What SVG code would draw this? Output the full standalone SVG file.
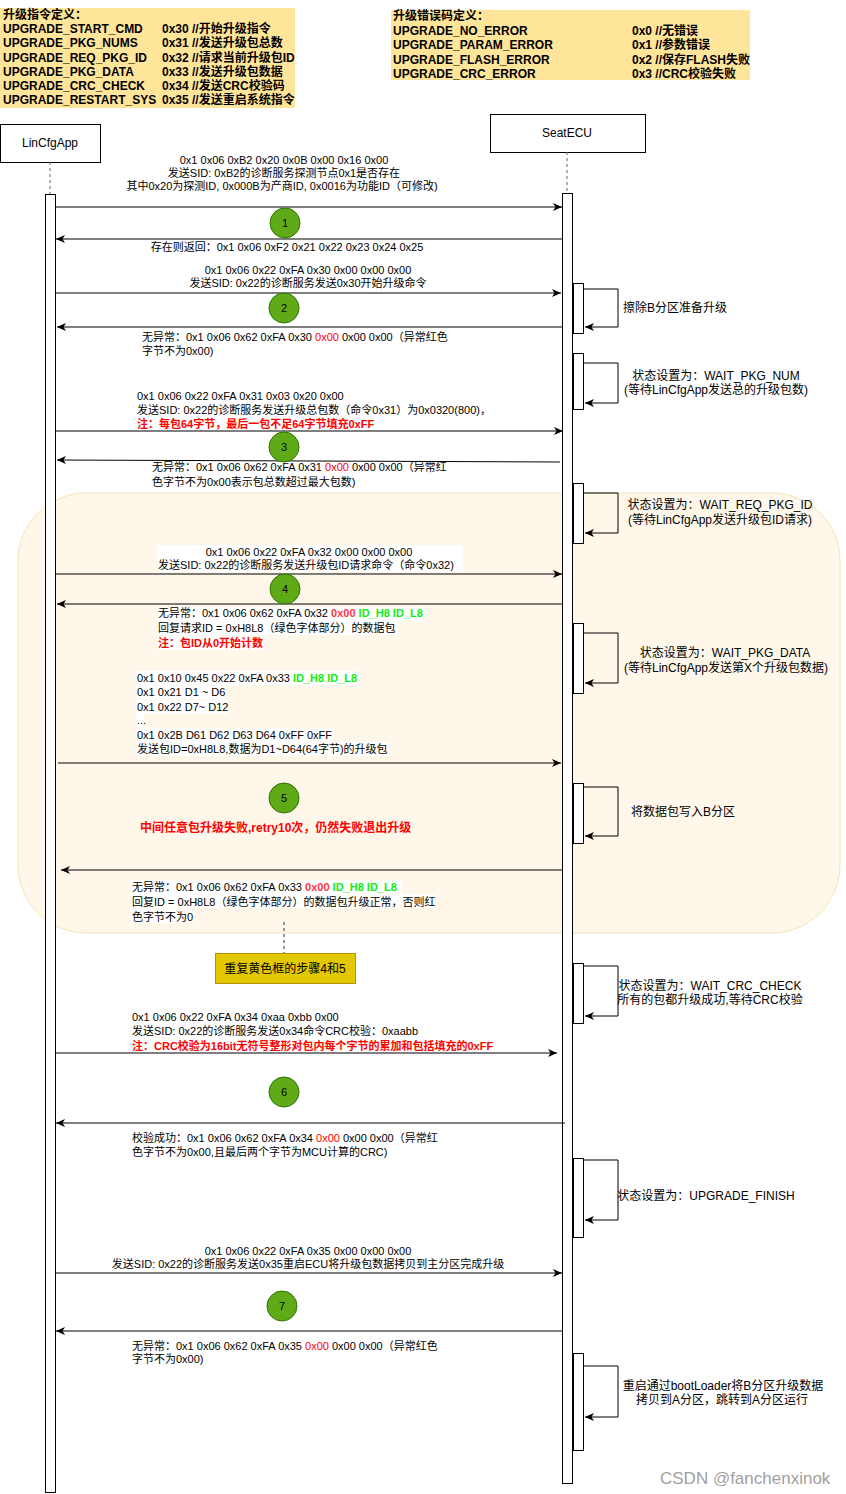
<svg xmlns="http://www.w3.org/2000/svg" width="846" height="1494" viewBox="0 0 846 1494">
<style>
.t{font-family:"Liberation Sans","Noto Sans CJK SC",sans-serif;font-size:11px;fill:#000}
.c{text-anchor:middle}
.d{font-size:12px;font-weight:bold}
.h{font-size:12px}
.red{fill:#ff0000}
.rb{fill:#ff0000;font-weight:bold}
.pk{fill:#ff3344;font-weight:bold}
.g{fill:#11ee11;font-weight:bold}
.ln{stroke:#000;stroke-width:1;fill:none}
.bar{fill:#fff;stroke:#000;stroke-width:1}
.circ{fill:#60a917;stroke:#2d7600;stroke-width:1}
.wb{fill:#fff}
</style>
<defs>
<marker id="ah" markerWidth="10" markerHeight="8" refX="9" refY="4" orient="auto" markerUnits="userSpaceOnUse">
<path d="M0,0 L9,4 L0,8 L2.5,4 Z" fill="#000"/>
</marker>
</defs>
<rect width="846" height="1494" fill="#fff"/>

<g id="defs-cmd">
<rect x="0" y="8" width="295" height="100" fill="#ffe599"/>
<text class="t d" x="3" y="19">升级指令定义：</text>
<text class="t d" x="3" y="33">UPGRADE_START_CMD</text><text class="t d" x="162" y="33">0x30 //开始升级指令</text>
<text class="t d" x="3" y="47">UPGRADE_PKG_NUMS</text><text class="t d" x="162" y="47">0x31 //发送升级包总数</text>
<text class="t d" x="3" y="62">UPGRADE_REQ_PKG_ID</text><text class="t d" x="162" y="62">0x32 //请求当前升级包ID</text>
<text class="t d" x="3" y="76">UPGRADE_PKG_DATA</text><text class="t d" x="162" y="76">0x33 //发送升级包数据</text>
<text class="t d" x="3" y="90">UPGRADE_CRC_CHECK</text><text class="t d" x="162" y="90">0x34 //发送CRC校验码</text>
<text class="t d" x="3" y="104">UPGRADE_RESTART_SYS</text><text class="t d" x="162" y="104">0x35 //发送重启系统指令</text>
</g>

<g id="defs-err">
<rect x="391" y="10" width="359" height="70" fill="#ffe599"/>
<text class="t d" x="393" y="20">升级错误码定义：</text>
<text class="t d" x="393" y="35">UPGRADE_NO_ERROR</text><text class="t d" x="632" y="35">0x0 //无错误</text>
<text class="t d" x="393" y="49">UPGRADE_PARAM_ERROR</text><text class="t d" x="632" y="49">0x1 //参数错误</text>
<text class="t d" x="393" y="64">UPGRADE_FLASH_ERROR</text><text class="t d" x="632" y="64">0x2 //保存FLASH失败</text>
<text class="t d" x="393" y="78">UPGRADE_CRC_ERROR</text><text class="t d" x="632" y="78">0x3 //CRC校验失败</text>
</g>

<g id="loop-region">
<rect x="18" y="493" width="822" height="440" rx="68" ry="68" fill="#fff8ea" stroke="#f3e4b8" stroke-width="1"/>
</g>

<g id="LinCfgApp">
<rect class="bar" x="0.5" y="124.5" width="100" height="38"/>
<text class="t h c" x="50" y="147">LinCfgApp</text>
<line x1="50" y1="162" x2="50" y2="194" stroke="#666" stroke-dasharray="3,3"/>
<rect class="bar" x="45.5" y="194.5" width="10" height="1298"/>
</g>

<g id="SeatECU">
<rect class="bar" x="490.5" y="114.5" width="155" height="38"/>
<text class="t h c" x="567" y="137">SeatECU</text>
<line x1="567" y1="152" x2="567" y2="193" stroke="#666" stroke-dasharray="3,3"/>
<rect class="bar" x="562.5" y="193.5" width="10" height="1290"/>
</g>

<g id="self-activations">
<rect class="bar" x="573.5" y="283.5" width="10" height="50"/>
<rect class="bar" x="573.5" y="353.5" width="10" height="56"/>
<rect class="bar" x="573.5" y="483.5" width="10" height="60"/>
<rect class="bar" x="573.5" y="623.5" width="10" height="70"/>
<rect class="bar" x="573.5" y="783.5" width="10" height="60"/>
<rect class="bar" x="573.5" y="963.5" width="10" height="60"/>
<rect class="bar" x="573.5" y="1158.5" width="10" height="79"/>
<rect class="bar" x="573.5" y="1353.5" width="10" height="97"/>
</g>

<g id="connectors">
<line class="ln" x1="56" y1="207" x2="562" y2="207" marker-end="url(#ah)"/>
<line class="ln" x1="562" y1="239" x2="56" y2="239" marker-end="url(#ah)"/>
<line class="ln" x1="56" y1="293" x2="561" y2="293" marker-end="url(#ah)"/>
<line class="ln" x1="562" y1="327" x2="57" y2="327" marker-end="url(#ah)"/>
<line class="ln" x1="56" y1="431" x2="563" y2="431" marker-end="url(#ah)"/>
<line class="ln" x1="560" y1="462" x2="57" y2="460" marker-end="url(#ah)"/>
<line class="ln" x1="56" y1="574" x2="562" y2="574" marker-end="url(#ah)"/>
<line class="ln" x1="562" y1="604" x2="57" y2="604" marker-end="url(#ah)"/>
<line class="ln" x1="58" y1="763" x2="561" y2="763" marker-end="url(#ah)"/>
<line class="ln" x1="562" y1="870" x2="61" y2="870" marker-end="url(#ah)"/>
<line class="ln" x1="56" y1="1053" x2="557" y2="1053" marker-end="url(#ah)"/>
<line class="ln" x1="565" y1="1123" x2="56" y2="1123" marker-end="url(#ah)"/>
<line class="ln" x1="56" y1="1273" x2="562" y2="1273" marker-end="url(#ah)"/>
<line class="ln" x1="562" y1="1331" x2="56" y2="1331" marker-end="url(#ah)"/>
<polyline class="ln" points="584,289 618,289 618,327 585,327" marker-end="url(#ah)"/>
<polyline class="ln" points="584,363 618,363 618,403 585,403" marker-end="url(#ah)"/>
<polyline class="ln" points="584,493 618,493 618,533 585,533" marker-end="url(#ah)"/>
<polyline class="ln" points="584,633 618,633 618,683 585,683" marker-end="url(#ah)"/>
<polyline class="ln" points="584,787 618,787 618,836 585,836" marker-end="url(#ah)"/>
<polyline class="ln" points="584,966 618,966 618,1016 585,1016" marker-end="url(#ah)"/>
<polyline class="ln" points="584,1160 618,1160 618,1220 585,1220" marker-end="url(#ah)"/>
<polyline class="ln" points="584,1366 618,1366 618,1417 585,1417" marker-end="url(#ah)"/>
<line x1="284" y1="922" x2="284" y2="953" stroke="#777" stroke-width="1.5" stroke-dasharray="3,3"/>
</g>

<g id="step1">
<text class="t c" x="284" y="164">0x1 0x06 0xB2 0x20 0x0B 0x00 0x16 0x00</text>
<text class="t c" x="284" y="177">发送SID: 0xB2的诊断服务探测节点0x1是否存在</text>
<text class="t c" x="282" y="190">其中0x20为探测ID, 0x000B为产商ID, 0x0016为功能ID（可修改)</text>
<circle class="circ" cx="285" cy="223" r="15"/>
<text class="t c" x="285" y="227">1</text>
<text class="t c" x="287" y="251">存在则返回：0x1 0x06 0xF2 0x21 0x22 0x23 0x24 0x25</text>
</g>

<g id="step2">
<text class="t c" x="308" y="274">0x1 0x06 0x22 0xFA 0x30 0x00 0x00 0x00</text>
<text class="t c" x="308" y="287">发送SID: 0x22的诊断服务发送0x30开始升级命令</text>
<circle class="circ" cx="284" cy="308" r="15"/>
<text class="t c" x="284" y="312">2</text>
<text class="t" x="142" y="341">无异常：0x1 0x06 0x62 0xFA 0x30 <tspan class="red">0x00</tspan> 0x00 0x00（异常红色</text>
<text class="t" x="142" y="355">字节不为0x00)</text>
</g>

<g id="ecu-state1">
<text class="t h" x="623" y="312">擦除B分区准备升级</text>
<text class="t h c" x="716" y="380">状态设置为：WAIT_PKG_NUM</text>
<text class="t h c" x="716" y="394">(等待LinCfgApp发送总的升级包数)</text>
</g>

<g id="step3">
<text class="t" x="137" y="400">0x1 0x06 0x22 0xFA 0x31 0x03 0x20 0x00</text>
<text class="t" x="137" y="414">发送SID: 0x22的诊断服务发送升级总包数（命令0x31）为0x0320(800)，</text>
<text class="t rb" x="137" y="428">注：每包64字节，最后一包不足64字节填充0xFF</text>
<circle class="circ" cx="284" cy="447" r="15"/>
<text class="t c" x="284" y="451">3</text>
<text class="t" x="152" y="471">无异常：0x1 0x06 0x62 0xFA 0x31 <tspan class="red">0x00</tspan> 0x00 0x00（异常红</text>
<text class="t" x="152" y="486">色字节不为0x00表示包总数超过最大包数)</text>
</g>

<g id="ecu-state2">
<text class="t h c" x="720" y="509">状态设置为：WAIT_REQ_PKG_ID</text>
<text class="t h c" x="720" y="524">(等待LinCfgApp发送升级包ID请求)</text>
<text class="t h c" x="725" y="657">状态设置为：WAIT_PKG_DATA</text>
<text class="t h c" x="726" y="672">(等待LinCfgApp发送第X个升级包数据)</text>
</g>

<g id="step4">
<rect class="wb" x="157" y="545" width="306" height="27"/>
<text class="t c" x="309" y="556">0x1 0x06 0x22 0xFA 0x32 0x00 0x00 0x00</text>
<text class="t" x="158" y="569">发送SID: 0x22的诊断服务发送升级包ID请求命令（命令0x32)</text>
<circle class="circ" cx="285" cy="589" r="15"/>
<text class="t c" x="285" y="593">4</text>
<rect class="wb" x="157" y="607" width="266" height="14"/>
<rect class="wb" x="157" y="621" width="241" height="14"/>
<rect class="wb" x="157" y="636" width="106" height="14"/>
<text class="t" x="158" y="617">无异常：0x1 0x06 0x62 0xFA 0x32 <tspan class="pk">0x00</tspan> <tspan class="g">ID_H8 ID_L8</tspan></text>
<text class="t" x="158" y="632">回复请求ID = 0xH8L8（绿色字体部分）的数据包</text>
<text class="t rb" x="158" y="647">注：包ID从0开始计数</text>
</g>

<g id="step5">
<rect class="wb" x="136" y="671" width="222" height="14"/>
<rect class="wb" x="136" y="685" width="90" height="14"/>
<rect class="wb" x="136" y="700" width="92" height="14"/>
<rect class="wb" x="136" y="714" width="8" height="13"/>
<rect class="wb" x="136" y="728" width="197" height="14"/>
<rect class="wb" x="136" y="742" width="253" height="14"/>
<text class="t" x="137" y="682">0x1 0x10 0x45 0x22 0xFA 0x33 <tspan class="g">ID_H8 ID_L8</tspan></text>
<text class="t" x="137" y="696">0x1 0x21 D1 ~ D6</text>
<text class="t" x="137" y="711">0x1 0x22 D7~ D12</text>
<text class="t" x="137" y="724">...</text>
<text class="t" x="137" y="739">0x1 0x2B D61 D62 D63 D64 0xFF 0xFF</text>
<text class="t" x="137" y="753">发送包ID=0xH8L8,数据为D1~D64(64字节)的升级包</text>
<circle class="circ" cx="284" cy="798" r="15"/>
<text class="t c" x="284" y="802">5</text>
<text class="t rb" x="140" y="832" style="font-size:12px">中间任意包升级失败,retry10次，仍然失败退出升级</text>
<text class="t h" x="631" y="816">将数据包写入B分区</text>
<rect class="wb" x="131" y="880" width="271" height="14"/>
<rect class="wb" x="131" y="894" width="304" height="14"/>
<rect class="wb" x="131" y="909" width="62" height="14"/>
<text class="t" x="132" y="891">无异常：0x1 0x06 0x62 0xFA 0x33  <tspan class="pk">0x00</tspan> <tspan class="g">ID_H8 ID_L8</tspan></text>
<text class="t" x="132" y="906">回复ID = 0xH8L8（绿色字体部分）的数据包升级正常，否则红</text>
<text class="t" x="132" y="921">色字节不为0</text>
</g>

<g id="repeat-note">
<rect x="215.5" y="953.5" width="140" height="30" fill="#e3c800" stroke="#b09500"/>
<text class="t h c" x="285" y="973">重复黄色框的步骤4和5</text>
</g>

<g id="step6">
<text class="t h c" x="710" y="990">状态设置为：WAIT_CRC_CHECK</text>
<text class="t h c" x="710" y="1004">所有的包都升级成功,等待CRC校验</text>
<text class="t" x="132" y="1021">0x1 0x06 0x22 0xFA 0x34 0xaa 0xbb 0x00</text>
<text class="t" x="132" y="1035">发送SID: 0x22的诊断服务发送0x34命令CRC校验：0xaabb</text>
<text class="t rb" x="132" y="1050">注：CRC校验为16bit无符号整形对包内每个字节的累加和包括填充的0xFF</text>
<circle class="circ" cx="284" cy="1092" r="15"/>
<text class="t c" x="284" y="1096">6</text>
<text class="t" x="132" y="1142">校验成功：0x1 0x06 0x62 0xFA 0x34 <tspan class="red">0x00</tspan> 0x00 0x00（异常红</text>
<text class="t" x="132" y="1156">色字节不为0x00,且最后两个字节为MCU计算的CRC)</text>
<text class="t h c" x="706" y="1200">状态设置为：UPGRADE_FINISH</text>
</g>

<g id="step7">
<text class="t c" x="308" y="1255">0x1 0x06 0x22 0xFA 0x35 0x00 0x00 0x00</text>
<text class="t c" x="308" y="1268">发送SID: 0x22的诊断服务发送0x35重启ECU将升级包数据拷贝到主分区完成升级</text>
<circle class="circ" cx="282" cy="1306" r="15"/>
<text class="t c" x="282" y="1310">7</text>
<text class="t" x="132" y="1350">无异常：0x1 0x06 0x62 0xFA 0x35 <tspan class="red">0x00</tspan> 0x00 0x00（异常红色</text>
<text class="t" x="132" y="1363">字节不为0x00)</text>
<text class="t h c" x="723" y="1390">重启通过bootLoader将B分区升级数据</text>
<text class="t h c" x="722" y="1404">拷贝到A分区，跳转到A分区运行</text>
</g>

<text class="t" x="660" y="1484" style="font-size:17px;fill:#a0a0a0">CSDN @fanchenxinok</text>
</svg>
